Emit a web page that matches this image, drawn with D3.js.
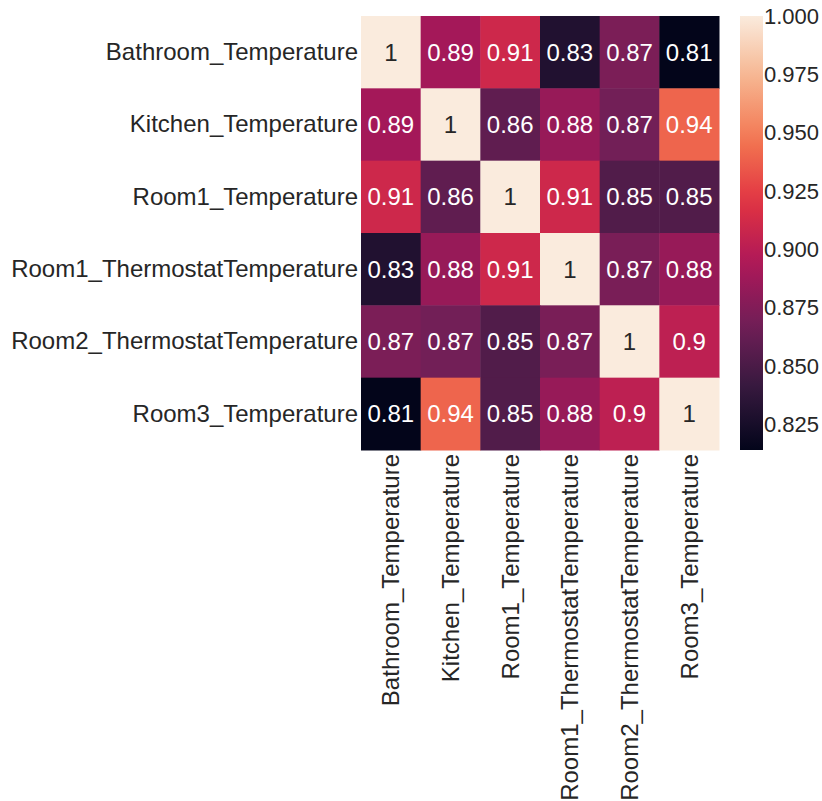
<!DOCTYPE html>
<html>
<head>
<meta charset="utf-8">
<script src="https://cdn.jsdelivr.net/npm/d3@7"></script>
<style>
  body { margin: 0; background: #fff; }
  text { font-family: "Liberation Sans", Arial, sans-serif; }
</style>
</head>
<body>
<script>
// Variable names (rows and columns are the same)
var labels = ["Bathroom_Temperature", "Kitchen_Temperature", "Room1_Temperature",
    "Room1_ThermostatTemperature", "Room2_ThermostatTemperature", "Room3_Temperature"];

// Correlation rows
var bathroom = [1, 0.89, 0.91, 0.83, 0.872, 0.814];
var kitchen = [0.89, 1, 0.86, 0.884, 0.868, 0.94];
var room1 = [0.91, 0.86, 1, 0.91, 0.853, 0.853];
var room1Thermo = [0.83, 0.884, 0.91, 1, 0.871, 0.884];
var room2Thermo = [0.872, 0.868, 0.853, 0.871, 1, 0.902];
var room3 = [0.814, 0.94, 0.853, 0.884, 0.902, 1];
var matrix = [bathroom, kitchen, room1, room1Thermo, room2Thermo, room3];

// Colorbar tick values
var cbarTicks = [0.825, 0.85, 0.875, 0.9, 0.925, 0.95, 0.975, 1.0];

// rocket colormap stops
var rocket = ["#03051a", "#35193e", "#701f57", "#ad1759", "#e13342", "#f37651", "#f6b48f", "#faebdd"];

var W = 822, H = 801;
var mLeft = 361, mRight = 719, mTop = 16, mBottom = 450;
var fontSize = "24px";

var svg = d3.select("body")
    .append("svg")
    .attr("width", W)
    .attr("height", H);

svg.append("rect").attr("width", W).attr("height", H).attr("fill", "#fff");

// Flatten cells
var cells = [];
matrix.forEach(function (row, i) {
    row.forEach(function (v, j) {
        cells.push({ row: labels[i], col: labels[j], value: v });
    });
});

var vmin = d3.min(cells, d => d.value), vmax = d3.max(cells, d => d.value);

var interp = d3.piecewise(d3.interpolateRgb, rocket);
var color = d3.scaleSequential(interp).domain([vmin, vmax]);

var x = d3.scaleBand().domain(labels).range([mLeft, mRight]);
var y = d3.scaleBand().domain(labels).range([mTop, mBottom]);

// Cells
svg.selectAll(".cell")
    .data(cells)
    .enter().append("rect")
    .attr("class", "cell")
    .attr("x", d => x(d.col))
    .attr("y", d => y(d.row))
    .attr("width", x.bandwidth() + 0.5)
    .attr("height", y.bandwidth() + 0.5)
    .attr("fill", d => color(d.value));

// Annotations (seaborn's ".2g")
var fmt = d3.format(".2~g");
svg.selectAll(".annot")
    .data(cells)
    .enter().append("text")
    .attr("class", "annot")
    .attr("x", d => x(d.col) + x.bandwidth() / 2)
    .attr("y", d => y(d.row) + y.bandwidth() / 2)
    .attr("dy", "0.35em")
    .attr("text-anchor", "middle")
    .style("font-size", fontSize)
    .attr("fill", function (d) {
        var c = d3.rgb(color(d.value));
        var lum = 0.2126 * c.r + 0.7152 * c.g + 0.0722 * c.b;
        return lum > 150 ? "#262626" : "#ffffff";
    })
    .text(d => fmt(d.value));

// Y axis
var yAxis = svg.append("g")
    .attr("transform", "translate(" + mLeft + ",0)")
    .call(d3.axisLeft(y).tickSize(0).tickPadding(3));
yAxis.select(".domain").remove();
yAxis.selectAll("text")
    .style("font-size", fontSize)
    .attr("fill", "#262626");

// X axis
var xAxis = svg.append("g")
    .attr("transform", "translate(0," + mBottom + ")")
    .call(d3.axisBottom(x).tickSize(0).tickPadding(3));
xAxis.select(".domain").remove();
xAxis.selectAll("text")
    .style("font-size", fontSize)
    .attr("fill", "#262626")
    .attr("text-anchor", "end")
    .attr("transform", "rotate(-90)")
    .attr("x", -4)
    .attr("y", 0)
    .attr("dy", "0.35em");

// Colorbar
var cbX = 740, cbW = 23;
var cy = d3.scaleLinear().domain([vmin, vmax]).range([mBottom, mTop]);

var grad = svg.append("defs").append("linearGradient")
    .attr("id", "cbar")
    .attr("x1", 0).attr("y1", 1).attr("x2", 0).attr("y2", 0);
d3.range(0, 1.0001, 0.05).forEach(function (t) {
    grad.append("stop")
        .attr("offset", t)
        .attr("stop-color", color(vmin + t * (vmax - vmin)));
});

svg.append("rect")
    .attr("x", cbX)
    .attr("y", mTop)
    .attr("width", cbW)
    .attr("height", mBottom - mTop)
    .attr("fill", "url(#cbar)");

var cAxis = svg.append("g")
    .attr("transform", "translate(" + (cbX + cbW) + ",0)")
    .call(d3.axisRight(cy).tickValues(cbarTicks).tickFormat(d3.format(".3f")).tickSize(0).tickPadding(1));
cAxis.select(".domain").remove();
cAxis.selectAll("text")
    .style("font-size", "22px")
    .attr("fill", "#262626");
</script>
</body>
</html>
